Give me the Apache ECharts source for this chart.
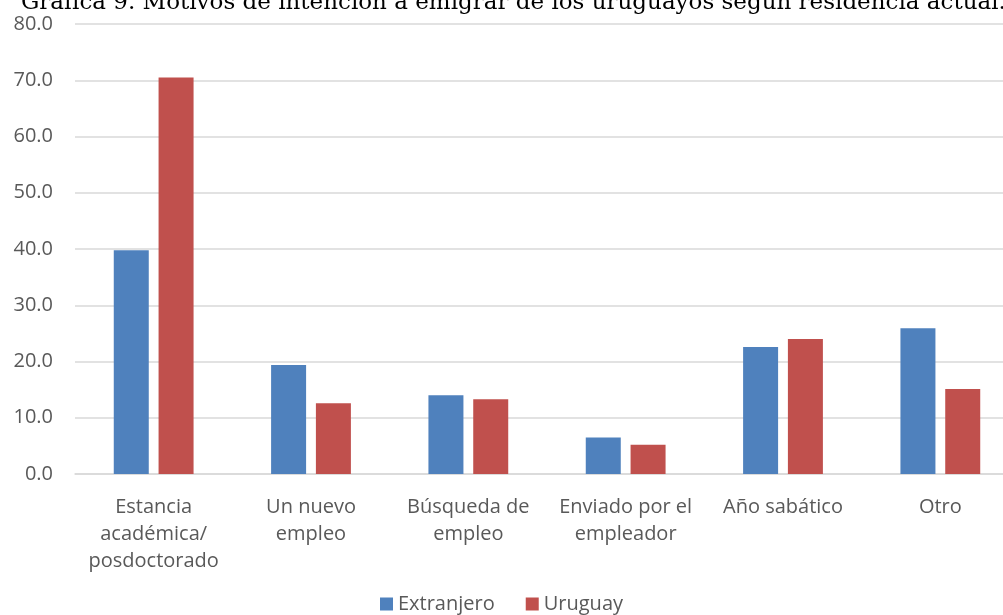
<!DOCTYPE html>
<html>
<head>
<meta charset="utf-8">
<script src="https://cdn.jsdelivr.net/npm/echarts@6/dist/echarts.min.js"></script>
<style>
html, body { margin: 0; padding: 0; background: #fff; }
#chart { width: 1003px; height: 615px; }
</style>
</head>
<body>
<div id="chart"></div>
<script>
// datos
const categorias = ['Estancia\nacadémica/\nposdoctorado', 'Un nuevo\nempleo', 'Búsqueda de\nempleo', 'Enviado por el\nempleador', 'Año sabático', 'Otro'];
const extranjero = [39.8, 19.4, 14.0, 6.5, 22.6, 25.9];
const uruguay = [70.5, 12.6, 13.3, 5.2, 24.0, 15.1];
const titulo = 'Gráfica 9. Motivos de intención a emigrar de los uruguayos según residencia actual.';

const chart = echarts.init(document.getElementById('chart'));
const fuente = '"Open Sans", "Liberation Sans", sans-serif';

chart.setOption({
	animation: false,
	title: {
		text: titulo,
		left: 16,
		top: -13,
		textStyle: { fontFamily: '"DejaVu Serif", "Liberation Serif", serif', fontSize: 23, fontWeight: 'normal', color: '#000' }
	},
	legend: {
		bottom: -4,
		left: 'center',
		itemWidth: 13,
		itemHeight: 13,
		itemGap: 31,
		icon: 'rect',
		textStyle: { fontFamily: fuente, fontSize: 20, color: '#595959' },
		data: ['Extranjero', 'Uruguay']
	},
	grid: {
		left: 75,
		right: -16,
		top: 24,
		bottom: 141,
		outerBoundsMode: 'none' // dejar que la última categoría se corte como en el original
	},
	xAxis: {
		type: 'category',
		data: categorias,
		axisTick: { show: false },
		axisLine: { lineStyle: { color: '#d9d9d9', width: 1.5 } },
		axisLabel: {
			fontFamily: fuente,
			fontSize: 20,
			color: '#595959',
			lineHeight: 27,
			margin: 20,
			interval: 0
		}
	},
	yAxis: {
		type: 'value',
		min: 0,
		max: 80,
		interval: 10,
		axisLabel: {
			fontFamily: fuente,
			fontSize: 20,
			color: '#595959',
			margin: 22,
			formatter: (v) => v.toFixed(1)
		},
		splitLine: { lineStyle: { color: '#d9d9d9', width: 1.5 } }
	},
	series: [
		{
			name: 'Extranjero',
			type: 'bar',
			data: extranjero,
			barWidth: 35,
			barGap: '28%',
			itemStyle: { color: '#4f81bd' }
		},
		{
			name: 'Uruguay',
			type: 'bar',
			data: uruguay,
			barWidth: 35,
			itemStyle: { color: '#c0504d' }
		}
	]
});
</script>
</body>
</html>
